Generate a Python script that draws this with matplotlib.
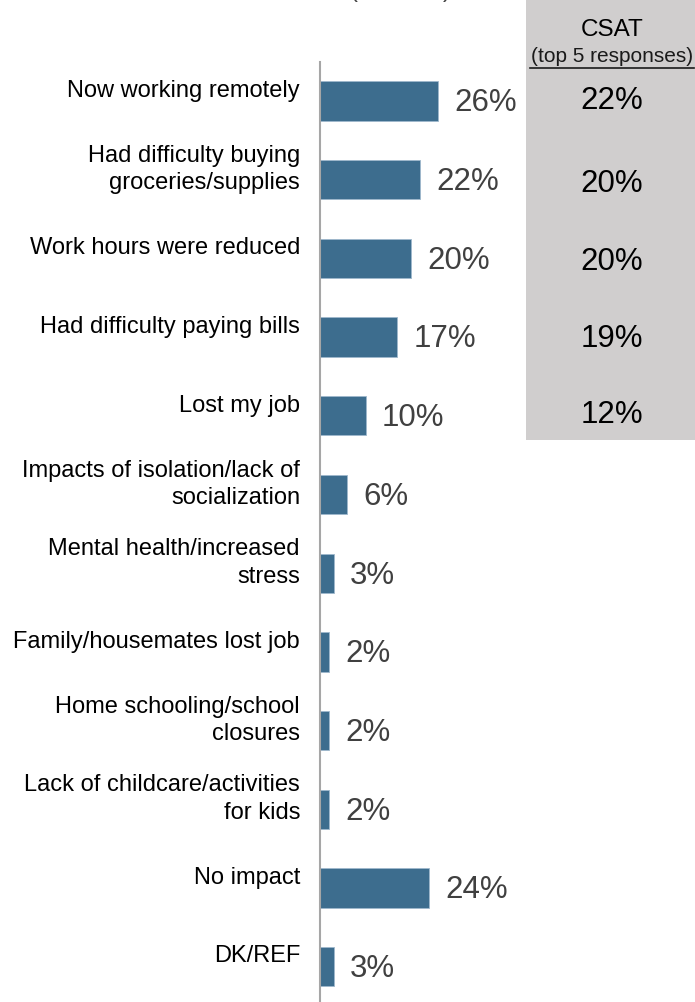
import matplotlib.pyplot as plt
from matplotlib.patches import Rectangle
from matplotlib.lines import Line2D

plt.rcParams['font.family'] = ['Liberation Sans', 'DejaVu Sans']

# survey responses, top to bottom
categories = [
    "Now working remotely",
    "Had difficulty buying\ngroceries/supplies",
    "Work hours were reduced",
    "Had difficulty paying bills",
    "Lost my job",
    "Impacts of isolation/lack of\nsocialization",
    "Mental health/increased\nstress",
    "Family/housemates lost job",
    "Home schooling/school\nclosures",
    "Lack of childcare/activities\nfor kids",
    "No impact",
    "DK/REF",
]
values = [26, 22, 20, 17, 10, 6, 3, 2, 2, 2, 24, 3]

# CSAT comparison column (top 5 responses only)
csat_values = [22, 20, 20, 19, 12]

W, H = 695, 1002
fig = plt.figure(figsize=(W / 100, H / 100), dpi=100)

x0 = 320          # pixel position of the zero line
px_per_pct = 4.55
row_px = 78.7
first_row_px = 101

ax = fig.add_axes([x0 / W, 0, (W - x0) / W, 1])
ax.set_xlim(0, (W - x0) / px_per_pct)
ax.set_ylim((H - first_row_px) / row_px, -first_row_px / row_px)
ax.axis('off')

ypos = list(range(len(categories)))
ax.barh(ypos, values, height=0.5, color='#3d6d8e', edgecolor='#9fb8cc', linewidth=0.6)

# zero line
ax.add_line(Line2D([0, 0], [(62 - first_row_px) / row_px, (H - first_row_px) / row_px],
                   color='#a6a6a6', lw=1.5, clip_on=False))

for y, cat, v in zip(ypos, categories, values):
    ax.text(-20 / px_per_pct, y - 0.13, cat, ha='right', va='center',
            fontsize=17, color='black', linespacing=1.32, clip_on=False)
    ax.text(v + 16 / px_per_pct, y + 0.03, f"{v}%", ha='left', va='center',
            fontsize=22.5, color='#404040')

# CSAT panel
bx0 = (526 - x0) / px_per_pct
bx1 = (W - x0) / px_per_pct
by0 = -first_row_px / row_px
by1 = (440 - first_row_px) / row_px
ax.add_patch(Rectangle((bx0, by0), bx1 - bx0, by1 - by0, facecolor='#d0cece',
                       edgecolor='none', clip_on=False, zorder=0))

cx = (612 - x0) / px_per_pct
ax.text(cx, (30 - first_row_px) / row_px, "CSAT", ha='center', va='center',
        fontsize=17.5, color='black')
ax.text(cx, (57 - first_row_px) / row_px, "(top 5 responses)", ha='center', va='center',
        fontsize=15, color='#1a1a1a')
fig.add_artist(Line2D([530 / W, 694 / W], [1 - 68 / H, 1 - 68 / H],
                      color='#1a1a1a', lw=1.2))

csat_y = [0, 1.05, 2.05, 3.02, 3.99]
for y, v in zip(csat_y, csat_values):
    ax.text(cx, y, f"{v}%", ha='center', va='center', fontsize=22.5, color='black')

# base size note, mostly above the top edge
fig.text(400 / W, 1 + 3 / H, "(n=1,000)", ha='center', va='baseline',
         fontsize=17, color='#404040')

fig.savefig('out.png', dpi=100)
